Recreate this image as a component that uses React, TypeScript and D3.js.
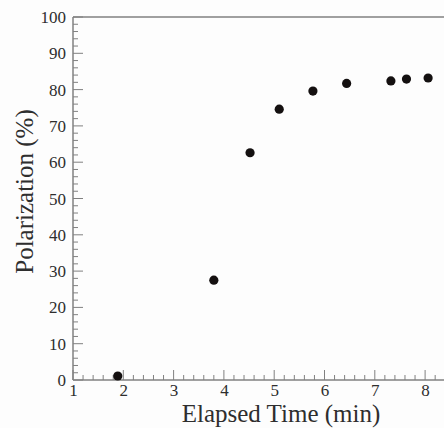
import React from "react";
import * as d3 from "d3";

const timeMin = [1.89, 3.8, 4.52, 5.1, 5.77, 6.44, 7.32, 7.63, 8.06];
const polarization = [1.1, 27.5, 62.6, 74.6, 79.6, 81.7, 82.4, 82.9, 83.2];
const xTicks = [1, 2, 3, 4, 5, 6, 7, 8];
const yTicks = [0, 10, 20, 30, 40, 50, 60, 70, 80, 90, 100];

const W = 444;
const H = 428;
const left = 73;
const top = 17;
const bottom = 380;
const xPerUnit = 50.3;
const right = left + 7.6 * xPerUnit;

export default function App() {
  const x = d3.scaleLinear().domain([1, 8.6]).range([left, right]);
  const y = d3.scaleLinear().domain([0, 100]).range([bottom, top]);
  const axisColor = "#808080";
  const textColor = "#2e2e2e";
  const font = '"Liberation Serif", "Times New Roman", serif';

  const xMinor = d3.range(1, 8.61, 0.2).filter((v) => Math.abs(v - Math.round(v)) > 0.01);
  const yMinor = d3.range(0, 100.01, 2).filter((v) => v % 10 !== 0);

  return (
    <svg
      width={W}
      height={H}
      style={{ position: "absolute", left: 0, top: 0, background: "#fff", fontFamily: font }}
    >
      <rect x={0} y={0} width={W} height={H} fill="#fdfdfd" />
      <line x1={left} x2={right} y1={top} y2={top} stroke={axisColor} strokeWidth={1.5} />
      <line x1={left} x2={right} y1={bottom} y2={bottom} stroke={axisColor} strokeWidth={1.5} />
      <line x1={left} x2={left} y1={top} y2={bottom} stroke={axisColor} strokeWidth={1.5} />
      <line x1={right} x2={right} y1={top} y2={bottom} stroke={axisColor} strokeWidth={1.5} />
      {yTicks.map((t) => (
        <g key={"y" + t}>
          <line x1={left} x2={left + 10} y1={y(t)} y2={y(t)} stroke={axisColor} strokeWidth={1} />
          <text
            x={left - 7}
            y={y(t) + 6}
            textAnchor="end"
            style={{ fontFamily: font }}
            fontSize={17}
            fill={textColor}
          >
            {t}
          </text>
        </g>
      ))}
      {yMinor.map((t) => (
        <line key={"ym" + t} x1={left} x2={left + 5} y1={y(t)} y2={y(t)} stroke={axisColor} strokeWidth={1} />
      ))}
      {xTicks.map((t) => (
        <g key={"x" + t}>
          <line x1={x(t)} x2={x(t)} y1={bottom} y2={bottom - 10} stroke={axisColor} strokeWidth={1} />
          <text
            x={x(t) + 0.5}
            y={bottom + 16}
            textAnchor="middle"
            style={{ fontFamily: font }}
            fontSize={17}
            fill={textColor}
          >
            {t}
          </text>
        </g>
      ))}
      {xMinor.map((t, i) => (
        <line key={"xm" + i} x1={x(t)} x2={x(t)} y1={bottom} y2={bottom - 5} stroke={axisColor} strokeWidth={1} />
      ))}
      {timeMin.map((t, i) => (
        <circle key={"p" + i} cx={x(t)} cy={y(polarization[i])} r={4.6} fill="#141010" />
      ))}
      <text
        x={281}
        y={422}
        textAnchor="middle"
        style={{ fontFamily: font }}
        fontSize={25}
        fill={textColor}
      >
        Elapsed Time (min)
      </text>
      <text
        transform={`translate(33, 191.5) rotate(-90)`}
        textAnchor="middle"
        style={{ fontFamily: font }}
        fontSize={25}
        fill={textColor}
      >
        Polarization (%)
      </text>
    </svg>
  );
}
